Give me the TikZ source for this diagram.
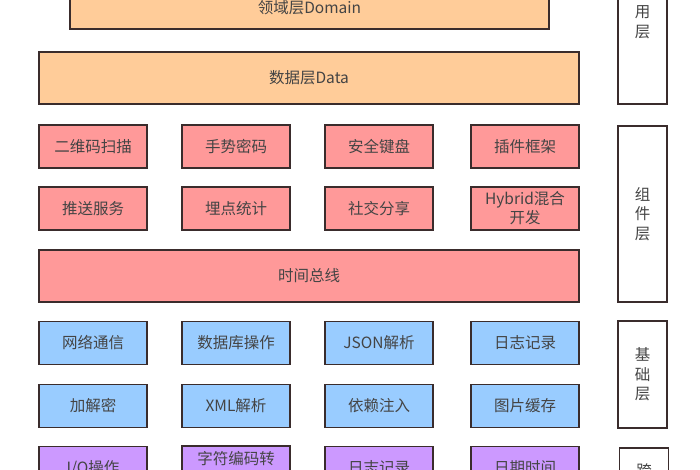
\documentclass[tikz,border=0pt]{standalone}
\usepackage{fontspec}
\setmainfont{Noto Sans CJK SC}
\definecolor{peach}{HTML}{FFCC99}
\definecolor{rose}{HTML}{FF9999}
\definecolor{sky}{HTML}{99CCFF}
\definecolor{lilac}{HTML}{CC99FF}
\definecolor{edge}{HTML}{3A2C2C}
\definecolor{txt}{HTML}{444444}
\tikzset{
  cell/.style={draw=edge, line width=1.7pt, text=txt, inner sep=0pt, align=center,
    font=\fontsize{15.5}{19}\selectfont, minimum width=108pt, minimum height=43pt},
  wide/.style={cell, minimum width=540pt, minimum height=52pt},
  side/.style={draw=edge, line width=1.7pt, fill=white, text=txt, inner sep=0pt, align=center,
    font=\fontsize{15.5}{19.5}\selectfont, minimum width=49pt},
}
\begin{document}
\begin{tikzpicture}[x=1pt,y=-1pt]
\useasboundingbox (0,0) rectangle (700,470);
\clip (0,0) rectangle (700,470);
\fill[white] (0,0) rectangle (700,470);
% top layers
\node[cell, fill=peach, minimum width=479pt, minimum height=42pt] (dom) at (309.5,8) {领域层Domain};
\node[wide, fill=peach] (data) at (309,78) {数据层Data};
% component layer
\node[cell, fill=rose] (c11) at (93,146.5) {二维码扫描};
\node[cell, fill=rose] (c12) at (236,146.5) {手势密码};
\node[cell, fill=rose] (c13) at (379,146.5) {安全键盘};
\node[cell, fill=rose] (c14) at (525,146.5) {插件框架};
\node[cell, fill=rose] (c21) at (93,208.5) {推送服务};
\node[cell, fill=rose] (c22) at (236,208.5) {埋点统计};
\node[cell, fill=rose] (c23) at (379,208.5) {社交分享};
\node[cell, fill=rose] (c24) at (525,208.5) {Hybrid混合\\开发};
\node[wide, fill=rose] (bus) at (309,276) {时间总线};
% base layer
\node[cell, fill=sky] (b11) at (93,343) {网络通信};
\node[cell, fill=sky] (b12) at (236,343) {数据库操作};
\node[cell, fill=sky] (b13) at (379,343) {JSON解析};
\node[cell, fill=sky] (b14) at (525,343) {日志记录};
\node[cell, fill=sky] (b21) at (93,406) {加解密};
\node[cell, fill=sky] (b22) at (236,406) {XML解析};
\node[cell, fill=sky] (b23) at (379,406) {依赖注入};
\node[cell, fill=sky] (b24) at (525,406) {图片缓存};
% bottom row
\node[cell, fill=lilac] (p1) at (93,468) {I/O操作};
\node[cell, fill=lilac, minimum height=44pt] (p2) at (236,468) {字符编码转\\换};
\node[cell, fill=lilac] (p3) at (379,468) {日志记录};
\node[cell, fill=lilac] (p4) at (525,468) {日期时间};
% side labels
\node[side, minimum height=184pt] (s1) at (642.5,12) {应\\用\\层};
\node[side, minimum height=176pt] (s2) at (642.5,214) {组\\件\\层};
\node[side, minimum height=107pt] (s3) at (642.5,374.5) {基\\础\\层};
\node[side, minimum height=46pt, anchor=north] (s4) at (644,447) {};
\node[text=txt, font=\fontsize{15.5}{19.5}\selectfont] (s4t) at (644,471) {跨};
\end{tikzpicture}
\end{document}
